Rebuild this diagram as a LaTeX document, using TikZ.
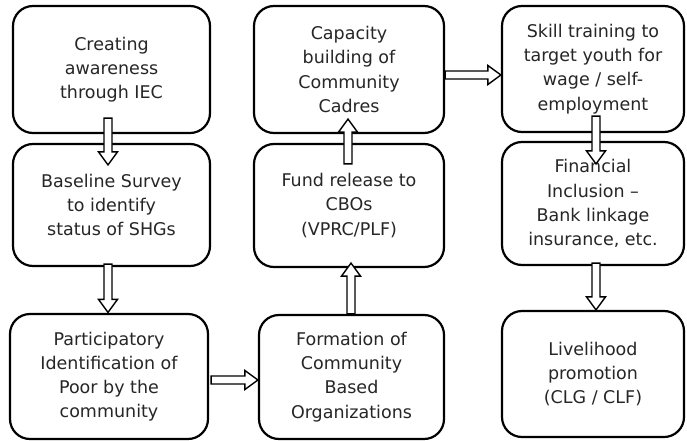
\documentclass[tikz,border=0pt]{standalone}
\usepackage{fontspec}
\setmainfont{DejaVu Sans}
\usetikzlibrary{calc}
\tikzset{
  stepbox/.style={draw=black, line width=2.2pt, rounded corners=20pt, fill=white,
    align=center, inner sep=0pt, font=\fontsize{17.5}{24.2}\selectfont, text=black!85},
  blockarr/.style={draw=black, line width=1.4pt, fill=white, line join=miter}
}
\newcommand\blockarrow[2]{%
  \path ($(#2)!13pt!(#1)$) coordinate (ah);
  \draw[blockarr] ($(#1)!4pt!90:(#2)$) -- ($(ah)!4pt!90:(#2)$) -- ($(ah)!9.5pt!90:(#2)$) -- (#2)
    -- ($(ah)!9.5pt!-90:(#2)$) -- ($(ah)!4pt!-90:(#2)$) -- ($(#1)!4pt!-90:(#2)$) -- cycle;}
\begin{document}
\begin{tikzpicture}[x=1pt,y=-1pt]
\useasboundingbox[fill=white] (0,0) rectangle (687,441);
% boxes
\node[stepbox, minimum width=197pt, minimum height=127pt] (b1) at (111.5,69.5) {Creating\\awareness\\through IEC};
\node[stepbox, minimum width=197pt, minimum height=122pt] (b2) at (111.5,205) {Baseline Survey\\to identify\\status of SHGs};
\node[stepbox, minimum width=198pt, minimum height=125pt] (b3) at (109,376.5) {Participatory\\Identification of\\Poor by the\\community};
\node[stepbox, minimum width=190pt, minimum height=127pt] (b4) at (349,69.5) {Capacity\\building of\\Community\\Cadres};
\node[stepbox, minimum width=190pt, minimum height=123pt] (b5) at (349,205.5) {Fund release to\\CBOs\\(VPRC/PLF)};
\node[stepbox, minimum width=185pt, minimum height=124pt] (b6) at (351.5,377) {Formation of\\Community\\Based\\Organizations};
\node[stepbox, minimum width=182pt, minimum height=126pt] (b7) at (593,69) {Skill training to\\target youth for\\wage / self-\\employment};
\node[stepbox, minimum width=182pt, minimum height=123pt] (b8) at (593,203.5) {Financial\\Inclusion –\\Bank linkage\\insurance, etc.};
\node[stepbox, minimum width=182pt, minimum height=126pt] (b9) at (593,374) {Livelihood\\promotion\\(CLG / CLF)};
% arrow end points
\coordinate (a1s) at ($(b1.south)+(-3.5,-16)$);
\coordinate (a1e) at ($(b2.north)+(-3.5,22)$);
\coordinate (a2s) at ($(b2.south)+(-3.5,-3)$);
\coordinate (a2e) at ($(b3.north)+(-1,-0.5)$);
\coordinate (a3s) at ($(b3.east)+(2,3.5)$);
\coordinate (a3e) at ($(b6.west)+(0,3)$);
\coordinate (a4s) at ($(b6.north)+(-0.5,0)$);
\coordinate (a4e) at ($(b5.south)+(2,-5)$);
\coordinate (a5s) at ($(b5.north)+(-1,21)$);
\coordinate (a5e) at ($(b4.south)+(-1,-15)$);
\coordinate (a6s) at ($(b4.east)+(0,5.5)$);
\coordinate (a6e) at ($(b7.west)+(0,6)$);
\coordinate (a7s) at ($(b7.south)+(3,-17)$);
\coordinate (a7e) at ($(b8.north)+(3,23)$);
\coordinate (a8s) at ($(b8.south)+(3,-3)$);
\coordinate (a8e) at ($(b9.north)+(3,0)$);
% arrows
\blockarrow{a1s}{a1e}
\blockarrow{a2s}{a2e}
\blockarrow{a3s}{a3e}
\blockarrow{a4s}{a4e}
\blockarrow{a5s}{a5e}
\blockarrow{a6s}{a6e}
\blockarrow{a7s}{a7e}
\blockarrow{a8s}{a8e}
\end{tikzpicture}
\end{document}
